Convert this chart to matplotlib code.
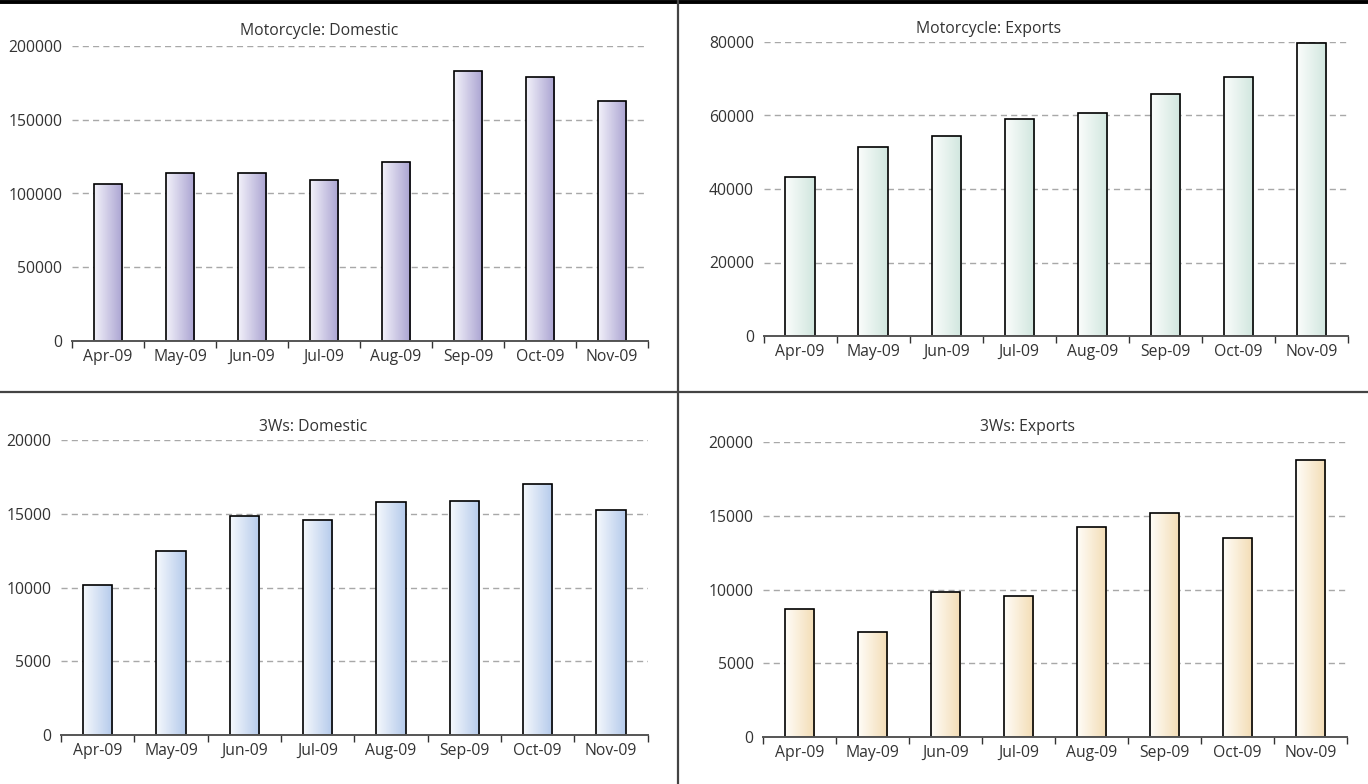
import numpy as np
import matplotlib
matplotlib.use("Agg")
import matplotlib.pyplot as plt
from matplotlib.colors import LinearSegmentedColormap
from matplotlib.lines import Line2D

plt.rcParams['font.family'] = ['Open Sans', 'DejaVu Sans']

# ---- data ----
months = ["Apr-09", "May-09", "Jun-09", "Jul-09", "Aug-09", "Sep-09", "Oct-09", "Nov-09"]
moto_domestic = [106500, 113800, 113700, 109000, 121500, 183000, 179000, 162900]
moto_exports = [43200, 51400, 54400, 59000, 60700, 65800, 70500, 79700]
tw_domestic = [10170, 12500, 14870, 14550, 15780, 15890, 17020, 15280]
tw_exports = [8680, 7110, 9810, 9540, 14230, 15200, 13480, 18820]

titles = ["Motorcycle: Domestic", "Motorcycle: Exports", "3Ws: Domestic", "3Ws: Exports"]
y_max = [200000, 80000, 20000, 20000]
y_step = [50000, 20000, 5000, 5000]

W, H = 1368, 784
fig = plt.figure(figsize=(W / 100, H / 100), dpi=100)

def px_axes(l, r, t, b):
    return fig.add_axes([l / W, 1 - b / H, (r - l) / W, (b - t) / H])

panels = [
    dict(rect=(72, 648, 46, 341), vals=moto_domestic, cols=("#f3f2fa", "#a9a2d1"),
         title_xy=(319, 31)),
    dict(rect=(763.5, 1348, 42, 336), vals=moto_exports, cols=("#fbfdfc", "#d0e6de"),
         title_xy=(989, 29)),
    dict(rect=(61, 647.5, 440, 735), vals=tw_domestic, cols=("#f6f9fd", "#b4caeb"),
         title_xy=(313, 427)),
    dict(rect=(763.3, 1347, 442.3, 736.7), vals=tw_exports, cols=("#fffdf8", "#f3dcb4"),
         title_xy=(1027, 427)),
]

text_col = "#333333"
grad = np.linspace(0, 1, 256).reshape(1, -1)

for i, p in enumerate(panels):
    ax = px_axes(*p["rect"])
    x = np.arange(len(months))
    bars = ax.bar(x, p["vals"], width=0.4, facecolor='none', edgecolor='black',
                  linewidth=1.2, zorder=3)
    cmap = LinearSegmentedColormap.from_list("g%d" % i, list(p["cols"]))
    for b in bars:
        x0, y0, w, h = b.get_x(), b.get_y(), b.get_width(), b.get_height()
        im = ax.imshow(grad, cmap=cmap, extent=[x0, x0 + w, y0, y0 + h],
                       aspect='auto', zorder=2, interpolation='bilinear')
        im.set_clip_path(b)
    ax.set_xlim(-0.5, len(months) - 0.5)
    ax.set_ylim(0, y_max[i])
    ticks = np.arange(0, y_max[i] + 1, y_step[i])
    ax.set_yticks(ticks)
    ax.set_yticklabels([str(int(v)) for v in ticks])
    ax.set_xticks(x)
    ax.set_xticklabels(months)
    ax.set_xticks(np.arange(-0.5, len(months), 1.0), minor=True)
    ax.tick_params(axis='x', which='major', length=0, pad=6, labelsize=11.3, labelcolor=text_col)
    ax.tick_params(axis='x', which='minor', length=5, width=1.0, color="#333333", direction='out')
    ax.tick_params(axis='y', length=0, pad=7, labelsize=11.3, labelcolor=text_col)
    for s in ['top', 'right', 'left']:
        ax.spines[s].set_visible(False)
    ax.spines['bottom'].set_color("#555555")
    ax.spines['bottom'].set_linewidth(1.4)
    ax.spines['bottom'].set_zorder(4)
    ax.set_axisbelow(True)
    ax.yaxis.grid(True, color="#a8a8a8", linewidth=1.0, linestyle=(0, (4.4, 3.0)))
    ax.xaxis.grid(False)
    ax.set_facecolor('none')
    tx, ty = p["title_xy"]
    fig.text(tx / W, 1 - ty / H, titles[i], ha='center', va='center',
             fontsize=11.3, color=text_col)

# frame / dividers
fig.add_artist(Line2D([0, 1], [1 - 1.5 / H, 1 - 1.5 / H], color='black', linewidth=2.8,
                      transform=fig.transFigure))
fig.add_artist(Line2D([678 / W, 678 / W], [0, 1], color='#444444', linewidth=1.6,
                      transform=fig.transFigure))
fig.add_artist(Line2D([0, 1], [1 - 392 / H, 1 - 392 / H], color='#444444', linewidth=1.6,
                      transform=fig.transFigure))

fig.savefig("out.png", dpi=100)
